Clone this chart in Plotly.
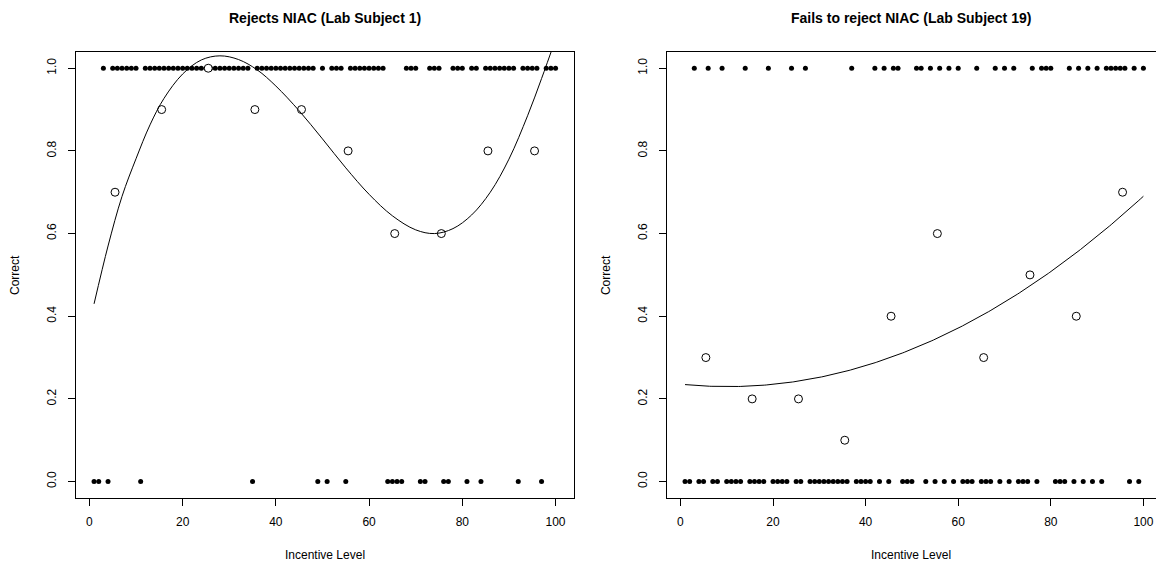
import numpy as np
import plotly.graph_objects as go

# ---- data ----
levels = list(range(1, 101))
left_zeros = [1, 2, 4, 11, 35, 49, 51, 55, 64, 65, 66, 67, 71, 72, 76, 77, 81, 84, 92, 97]
right_zeros = [1, 2, 4, 5, 7, 8, 10, 11, 12, 13, 15, 16, 17, 18, 20, 21, 22, 23, 25, 26,
               28, 29, 30, 31, 32, 33, 34, 35, 36, 38, 39, 40, 41, 43, 45, 48, 49, 50,
               53, 55, 57, 59, 61, 62, 63, 65, 66, 67, 69, 71, 73, 74, 75, 77,
               81, 82, 83, 85, 87, 89, 91, 97, 99]
left_correct = [0 if v in left_zeros else 1 for v in levels]
right_correct = [0 if v in right_zeros else 1 for v in levels]
bin_centers = [5.5, 15.5, 25.5, 35.5, 45.5, 55.5, 65.5, 75.5, 85.5, 95.5]

# fitted curve of the left panel
left_fit_x = [1, 4, 7, 10, 13, 16, 20, 24, 28, 32, 36, 40, 45, 50, 55, 60, 65, 70, 74, 78,
              82, 86, 90, 94, 97, 100]
left_fit_y = [0.43, 0.57, 0.69, 0.781, 0.863, 0.927, 0.986, 1.02, 1.03, 1.021, 0.996, 0.957,
              0.897, 0.829, 0.759, 0.695, 0.643, 0.609, 0.600, 0.612, 0.645, 0.70, 0.78,
              0.885, 0.975, 1.07]

left_title = "Rejects NIAC (Lab Subject 1)"
right_title = "Fails to reject NIAC (Lab Subject 19)"
x_ticks = [0, 20, 40, 60, 80, 100]
y_ticks = [0.0, 0.2, 0.4, 0.6, 0.8, 1.0]


def bin_means(corr):
    return [float(np.mean(corr[i * 10:(i + 1) * 10])) for i in range(10)]


# right panel: quadratic least-squares fit of the raw outcomes
xs = np.linspace(1, 100, 300)
right_fit_y = np.polyval(np.polyfit(levels, right_correct, 2), xs)

W, H = 1156, 564
fig = go.Figure()
font = "Liberation Sans, Arial, Helvetica, sans-serif"
ytop, ybot = 51.7, 498.1
panels = [
    (left_correct, (left_fit_x, left_fit_y), "spline", left_title, (75.6, 574.0), "x", "y"),
    (right_correct, (xs, right_fit_y), "linear", right_title, (666.7, 1156.0), "x2", "y2"),
]
for corr, (fx, fy), shape, title, (px0, px1), xa, ya in panels:
    fig.add_trace(go.Scatter(x=levels, y=corr, mode="markers", xaxis=xa, yaxis=ya,
                             marker=dict(color="black", size=5), showlegend=False))
    fig.add_trace(go.Scatter(x=bin_centers, y=bin_means(corr), mode="markers", xaxis=xa, yaxis=ya,
                             marker=dict(color="white", size=8, symbol="circle",
                                         line=dict(color="black", width=1)), showlegend=False))
    fig.add_trace(go.Scatter(x=fx, y=fy, mode="lines", xaxis=xa, yaxis=ya,
                             line=dict(color="black", width=1, shape=shape, smoothing=1.0),
                             showlegend=False))
    mid = (px0 + px1) / 2 / W
    fig.add_annotation(x=mid, y=1 - 18 / H, xref="paper", yref="paper", text="<b>%s</b>" % title,
                       xanchor="center", yanchor="middle",
                       showarrow=False, font=dict(family=font, size=14, color="black"))
    fig.add_annotation(x=mid, y=1 - 555 / H, xref="paper", yref="paper", text="Incentive Level",
                       xanchor="center", yanchor="middle",
                       showarrow=False, font=dict(family=font, size=12, color="black"))
    fig.add_annotation(x=(px0 - 60.5) / W, y=1 - (ytop + ybot) / 2 / H, xref="paper", yref="paper",
                       text="Correct", textangle=-90, showarrow=False, xanchor="center", yanchor="middle",
                       font=dict(family=font, size=12, color="black"))

axis_common = dict(showgrid=False, zeroline=False, showline=True, linecolor="black", linewidth=1,
                   mirror=True, ticks="outside", ticklen=7, tickwidth=1, tickcolor="black",
                   tickfont=dict(family=font, size=12, color="black"))
ydom = [1 - ybot / H, 1 - ytop / H]
r_end = -2.96 + (1156.0 - 666.7) / 4.63
fig.update_layout(
    width=W, height=H, margin=dict(l=0, r=0, t=0, b=0),
    plot_bgcolor="white", paper_bgcolor="white",
    xaxis=dict(domain=[75.6 / W, 574.0 / W], range=[-2.96, 103.96], tickvals=x_ticks,
               ticklabelstandoff=5, **axis_common),
    yaxis=dict(domain=ydom, range=[-0.04, 1.04], tickvals=y_ticks, ticktext=["%.1f" % v for v in y_ticks],
               tickangle=-90, ticklabelstandoff=7, **axis_common),
    xaxis2=dict(domain=[666.7 / W, 1.0], range=[-2.96, r_end], tickvals=x_ticks, anchor="y2",
                ticklabelstandoff=5, **axis_common),
    yaxis2=dict(domain=ydom, range=[-0.04, 1.04], tickvals=y_ticks, ticktext=["%.1f" % v for v in y_ticks],
                tickangle=-90, anchor="x2", ticklabelstandoff=7, **axis_common),
)
fig.write_html("out.html")
